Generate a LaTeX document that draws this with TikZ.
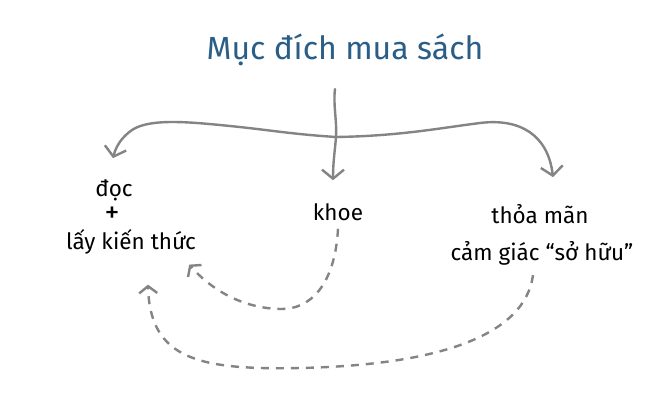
\documentclass[tikz,border=0pt]{standalone}
\usepackage{fontspec}
\setmainfont{Fira Sans}
\usetikzlibrary{arrows.meta,calc}
\definecolor{titleblue}{RGB}{43,94,135}
\definecolor{linegrey}{RGB}{132,132,132}
\tikzset{
  lbl/.style={font=\fontsize{22.5}{26}\selectfont, text=black, inner sep=0pt},
  solidarrow/.style={draw=linegrey, line width=2.4pt, line cap=round,
    -{Straight Barb[length=9pt,width=22pt,line width=2.4pt]}},
  dasharrow/.style={draw=linegrey, line width=2.4pt,
    dash pattern=on 8pt off 7pt,
    -{Straight Barb[length=7pt,width=18pt,line width=2.4pt]}},
}
\begin{document}
\begin{tikzpicture}[x=1pt,y=-1pt]
\useasboundingbox (0,0) rectangle (671,402);
\fill[white] (0,0) rectangle (671,402);
% nodes
\node[inner sep=0pt, text=titleblue, font=\fontsize{32}{36}\selectfont] (t) at (345,50) {Mục đích mua sách};
\node[lbl] (d1) at (114,190) {đọc};
\node[inner sep=0pt, font=\fontsize{30}{34}\selectfont] (plus) at (112,215) {+};
\node[lbl] (d3) at (131,242) {lấy kiến thức};
\node[lbl] (k) at (338,212) {khoe};
\node[lbl] (s1) at (540,214) {thỏa mãn};
\node[lbl] (s2) at (542,253) {cảm giác “sở hữu”};
\coordinate (top) at (335,89);
\coordinate (j) at (336,137);
% stem and branches
\draw[draw=linegrey, line width=2.4pt, line cap=round] (top) .. controls (333,105) and (337,120) .. (j);
\draw[solidarrow] (j) .. controls (335,150) and (333,162) .. ($(k.north)+(-5,-23)$);
\draw[solidarrow] (j) .. controls (290,134) and (270,130) .. (230,126)
  .. controls (190,122) and (150,118) .. (132,130) .. controls (122,137) and (116,146) .. ($(d1.north)+(-1,-21)$);
\draw[solidarrow] (j) .. controls (400,136) and (440,128) .. (480,123)
  .. controls (520,118) and (548,135) .. ($(s1.north)+(13,-27)$);
% dashed arrows
\draw[dasharrow] ($(k.south)+(0,8)$) .. controls (335,285) and (310,310) .. (280,309)
  .. controls (240,308) and (210,288) .. ($(d3.south east)+(-7,10)$);
\draw[dasharrow] ($(s2.south)+(-9,10)$) .. controls (525,335) and (440,365) .. (300,368)
  .. controls (200,370) and (150,360) .. ($(d3.south)+(17,30)$);
\end{tikzpicture}
\end{document}
